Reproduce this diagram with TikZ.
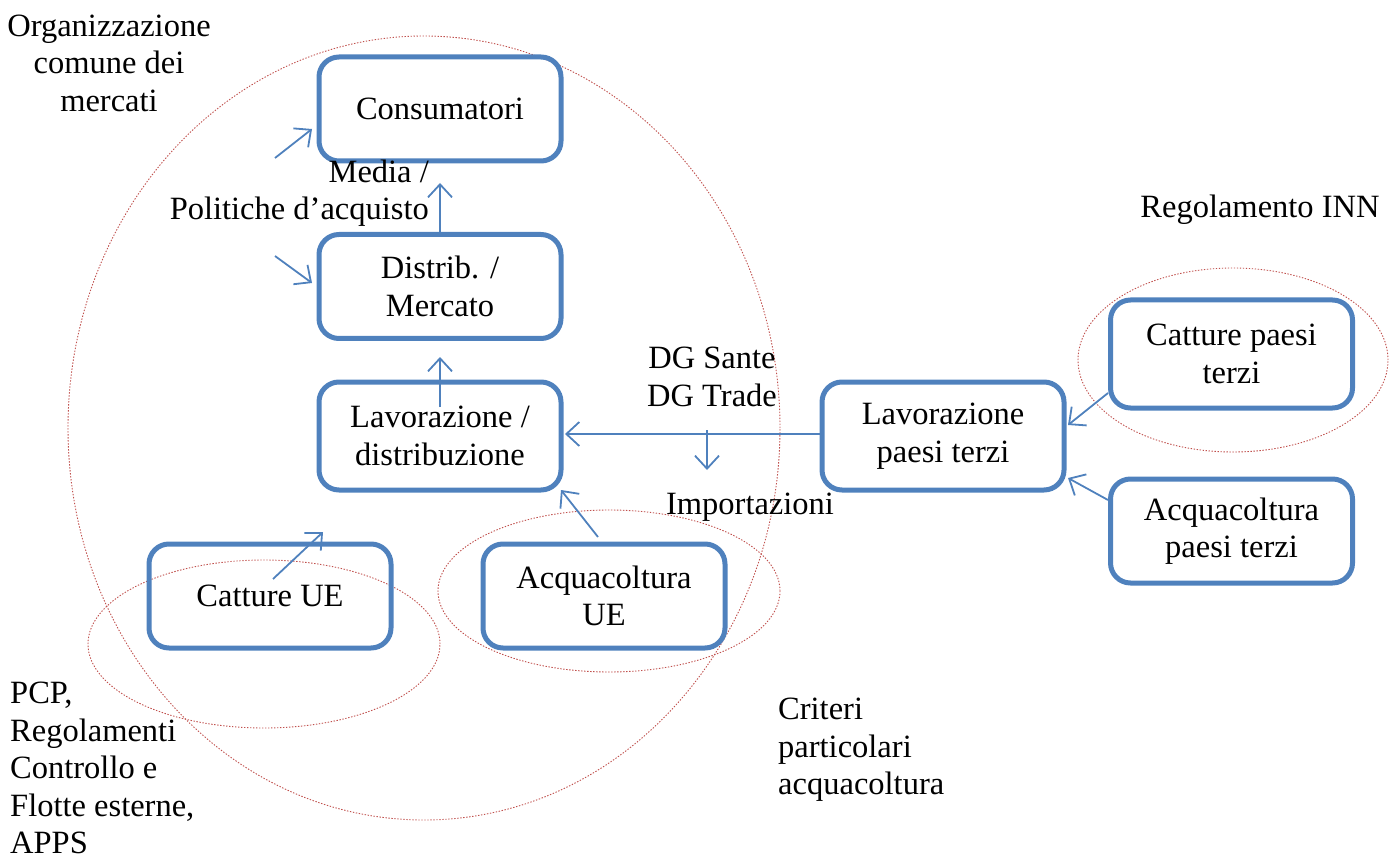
\documentclass[tikz,border=0pt]{standalone}
\usepackage{fontspec}
\setmainfont{Liberation Serif}
\usetikzlibrary{arrows.meta}
\definecolor{boxblue}{HTML}{4F81BD}
\definecolor{ellred}{HTML}{C0504D}
\begin{document}
\begin{tikzpicture}[x=1pt,y=-1pt,
  every node/.style={font=\fontsize{32.5}{37.5}\selectfont, text=black},
  box/.style={draw=boxblue, line width=5pt, rounded corners=20pt, minimum width=242pt, minimum height=104pt, align=center, inner sep=0pt},
  arr/.style={draw=boxblue, line width=1.8pt, -{Straight Barb[length=13pt,width=24pt,line width=1.8pt]}},
  ell/.style={draw=ellred, line width=0.9pt, dash pattern=on 1.4pt off 1.6pt},
  lbl/.style={align=center, inner sep=0pt}
]
\useasboundingbox (0,0) rectangle (1394,858);

% ellipses
\draw[ell] (424,428) ellipse [x radius=356pt, y radius=392pt];
\draw[ell] (264,644) ellipse [x radius=176pt, y radius=84pt];
\draw[ell] (609,591) ellipse [x radius=171pt, y radius=81pt];
\draw[ell] (1233,360) ellipse [x radius=155pt, y radius=92pt];

% boxes
\node[box] (cons) at (440,109) {Consumatori};
\node[box] (dist) at (440,286.5) {Distrib. /\\Mercato};
\node[box, minimum height=108pt] (lav) at (440,436) {Lavorazione /\\distribuzione};
\node[box] (cue) at (270,596) {Catture UE};
\node[box] (aue) at (604,596) {Acquacoltura\\UE};
\node[box, minimum height=108pt] (lpt) at (943,436) {Lavorazione\\paesi terzi};
\node[box, minimum height=108pt] (cpt) at (1231.5,354) {Catture paesi\\terzi};
\node[box] (apt) at (1231.5,531) {Acquacoltura\\paesi terzi};

% labels
\node[lbl] (ocm) at (109,63) {Organizzazione\\comune dei\\mercati};
\node[lbl, align=right, anchor=east] (media) at (429,193) {Media /\\Politiche d’acquisto};
\node[lbl] (inn) at (1260,210) {Regolamento INN};
\node[lbl] (dg) at (712,377) {DG Sante\\DG Trade};
\node[lbl] (imp) at (750,507) {Importazioni};
\node[lbl, align=left, anchor=west] (pcp) at (10,768) {PCP,\\Regolamenti\\Controllo e\\Flotte esterne,\\APPS};
\node[lbl, align=left, anchor=west] (crit) at (778,750) {Criteri\\particolari\\acquacoltura};

% coordinates for free arrow ends
\coordinate (c1) at (440,183);
\coordinate (c2s) at (275,158);
\coordinate (c2e) at (312,129);
\coordinate (c3s) at (275,256);
\coordinate (c3e) at (312,283);
\coordinate (c4s) at (440,407);
\coordinate (c4e) at (440,357);
\coordinate (c5s) at (707,430);
\coordinate (c5e) at (707,470);
\coordinate (c6s) at (273,579);
\coordinate (c6e) at (323,532);
\coordinate (c7s) at (598,537);
\coordinate (c7e) at (561,490);
\coordinate (c8s) at (1108,393);
\coordinate (c8e) at (1068,425);
\coordinate (c9s) at (1108,500);
\coordinate (c9e) at (1068,478);
\coordinate (c10e) at (565,434);

% arrows
\draw[arr] (dist.north) -- (c1);
\draw[arr] (c2s) -- (c2e);
\draw[arr] (c3s) -- (c3e);
\draw[arr] (c4s) -- (c4e);
\draw[arr] (lpt.west |- c10e) -- (c10e);
\draw[arr] (c5s) -- (c5e);
\draw[arr] (c6s) -- (c6e);
\draw[arr] (c7s) -- (c7e);
\draw[arr] (c8s) -- (c8e);
\draw[arr] (c9s) -- (c9e);
\end{tikzpicture}
\end{document}
